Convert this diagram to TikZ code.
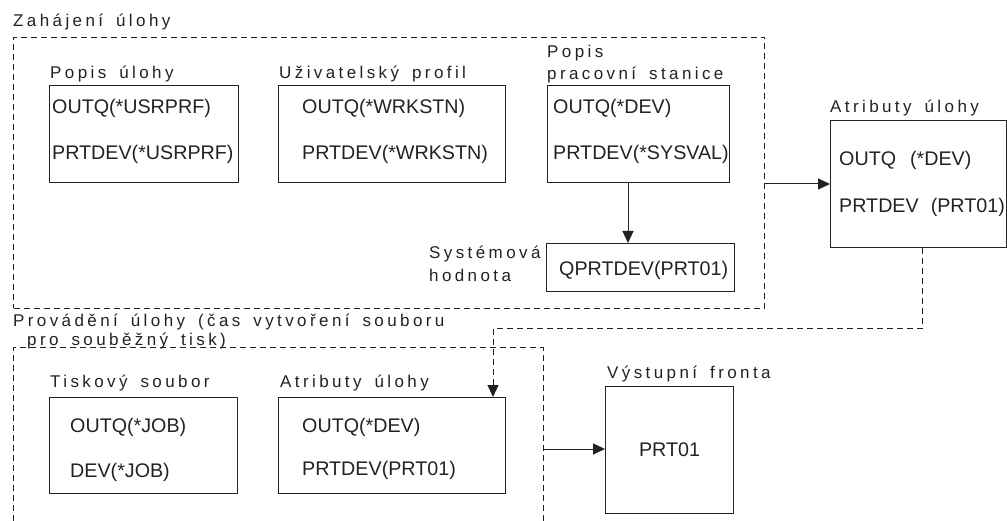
\documentclass[tikz,border=0pt]{standalone}
\usepackage{fontspec}
\setmainfont{Liberation Sans}
\newfontfamily\lblfont[LetterSpace=20,WordSpace=1.6]{Liberation Sans}
\usetikzlibrary{arrows.meta}
\definecolor{ink}{HTML}{222222}
\tikzset{
  box/.style={draw=ink, line width=1pt, inner sep=0pt, anchor=north west},
  txt/.style={anchor=west, inner sep=0pt, font=\fontsize{19.7}{22}\selectfont, text=ink},
  lbl/.style={anchor=base west, inner sep=0pt, font=\lblfont\fontsize{17}{20}\selectfont, text=ink},
  dsh/.style={draw=ink, line width=1pt, dash pattern=on 6pt off 4pt},
  arr/.style={draw=ink, line width=1pt, -{Triangle[length=12pt,width=11pt]}},
}
\begin{document}
\begin{tikzpicture}[x=1pt,y=-1pt]
\useasboundingbox (0,0) rectangle (1007,521);

% ---------- Zahajeni ulohy ----------
\node[lbl] (t1) at (13,27) {Zahájení úlohy};
\node[dsh, inner sep=0pt, anchor=north west, minimum width=751pt, minimum height=271pt] (zb) at (13,37) {};

\node[lbl] (l1) at (50,79) {Popis úlohy};
\node[box, minimum width=189pt, minimum height=97pt] (b1) at (49,85) {};
\node[txt] (b1a) at (52,108) {OUTQ(*USRPRF)};
\node[txt] (b1b) at (52,154) {PRTDEV(*USRPRF)};

\node[lbl] (l2) at (279,79) {Uživatelský profil};
\node[box, minimum width=227pt, minimum height=97pt] (b2) at (278,85) {};
\node[txt] (b2a) at (302,108) {OUTQ(*WRKSTN)};
\node[txt] (b2b) at (302,154) {PRTDEV(*WRKSTN)};

\node[lbl] (l3a) at (547,58) {Popis};
\node[lbl] (l3b) at (547,80) {pracovní stanice};
\node[box, minimum width=182pt, minimum height=97pt] (b3) at (547,85) {};
\node[txt] (b3a) at (553,108) {OUTQ(*DEV)};
\node[txt] (b3b) at (553,154) {PRTDEV(*SYSVAL)};

\node[lbl] (l4a) at (429,259) {Systémová};
\node[lbl] (l4b) at (429,282) {hodnota};
\node[box, minimum width=188pt, minimum height=48pt] (sv) at (546,243) {};
\node[txt] (sva) at (559,270) {QPRTDEV(PRT01)};

\coordinate (a1) at (628,182);
\draw[arr] (a1) -- (a1 |- sv.north);

% ---------- Atributy ulohy (right) ----------
\node[lbl] (l5) at (830,113) {Atributy úlohy};
\node[box, minimum width=176pt, minimum height=127pt] (ab) at (830,120) {};
\node[txt] (aba) at (839,160) {OUTQ\hspace{14pt}(*DEV)};
\node[txt] (abb) at (839,207) {PRTDEV\hspace{12pt}(PRT01)};
\draw[arr] (ab.west -| zb.east) -- (ab.west);

% ---------- Provadeni ulohy ----------
\node[lbl] (t2a) at (13,327) {Provádění úlohy (čas vytvoření souboru};
\node[lbl] (t2b) at (27,345) {pro souběžný tisk)};
\coordinate (pbl) at (13,521);
\coordinate (ptl) at (13,348);
\coordinate (ptr) at (543,348);
\coordinate (pbr) at (543,521);
\draw[dsh] (pbl) -- (ptl) -- (ptr) -- (pbr);

\node[lbl] (l6) at (50,387) {Tiskový soubor};
\node[box, minimum width=188pt, minimum height=96pt] (b6) at (49,397) {};
\node[txt] (b6a) at (70,427) {OUTQ(*JOB)};
\node[txt] (b6b) at (70,472) {DEV(*JOB)};

\node[lbl] (l7) at (280,388) {Atributy úlohy};
\node[box, minimum width=227pt, minimum height=96pt] (b7) at (278,397) {};
\node[txt] (b7a) at (302,427) {OUTQ(*DEV)};
\node[txt] (b7b) at (302,470) {PRTDEV(PRT01)};

\coordinate (c1) at (922,329);
\coordinate (c2) at (493,329);
\draw[dsh] (ab.south -| c1) -- (c1) -- (c2);
\draw[dsh, -{Triangle[length=12pt,width=11pt]}] (c2) -- (c2 |- b7.north);

\node[lbl] (l8) at (607,378) {Výstupní fronta};
\node[box, minimum width=128pt, minimum height=127pt] (vf) at (605,386) {};
\node[anchor=center, inner sep=0pt, font=\fontsize{19.7}{22}\selectfont, text=ink] (vfa) at (vf.center) {PRT01};
\coordinate (c3) at (543,449);
\draw[arr] (c3) -- (c3 -| vf.west);
\end{tikzpicture}
\end{document}
